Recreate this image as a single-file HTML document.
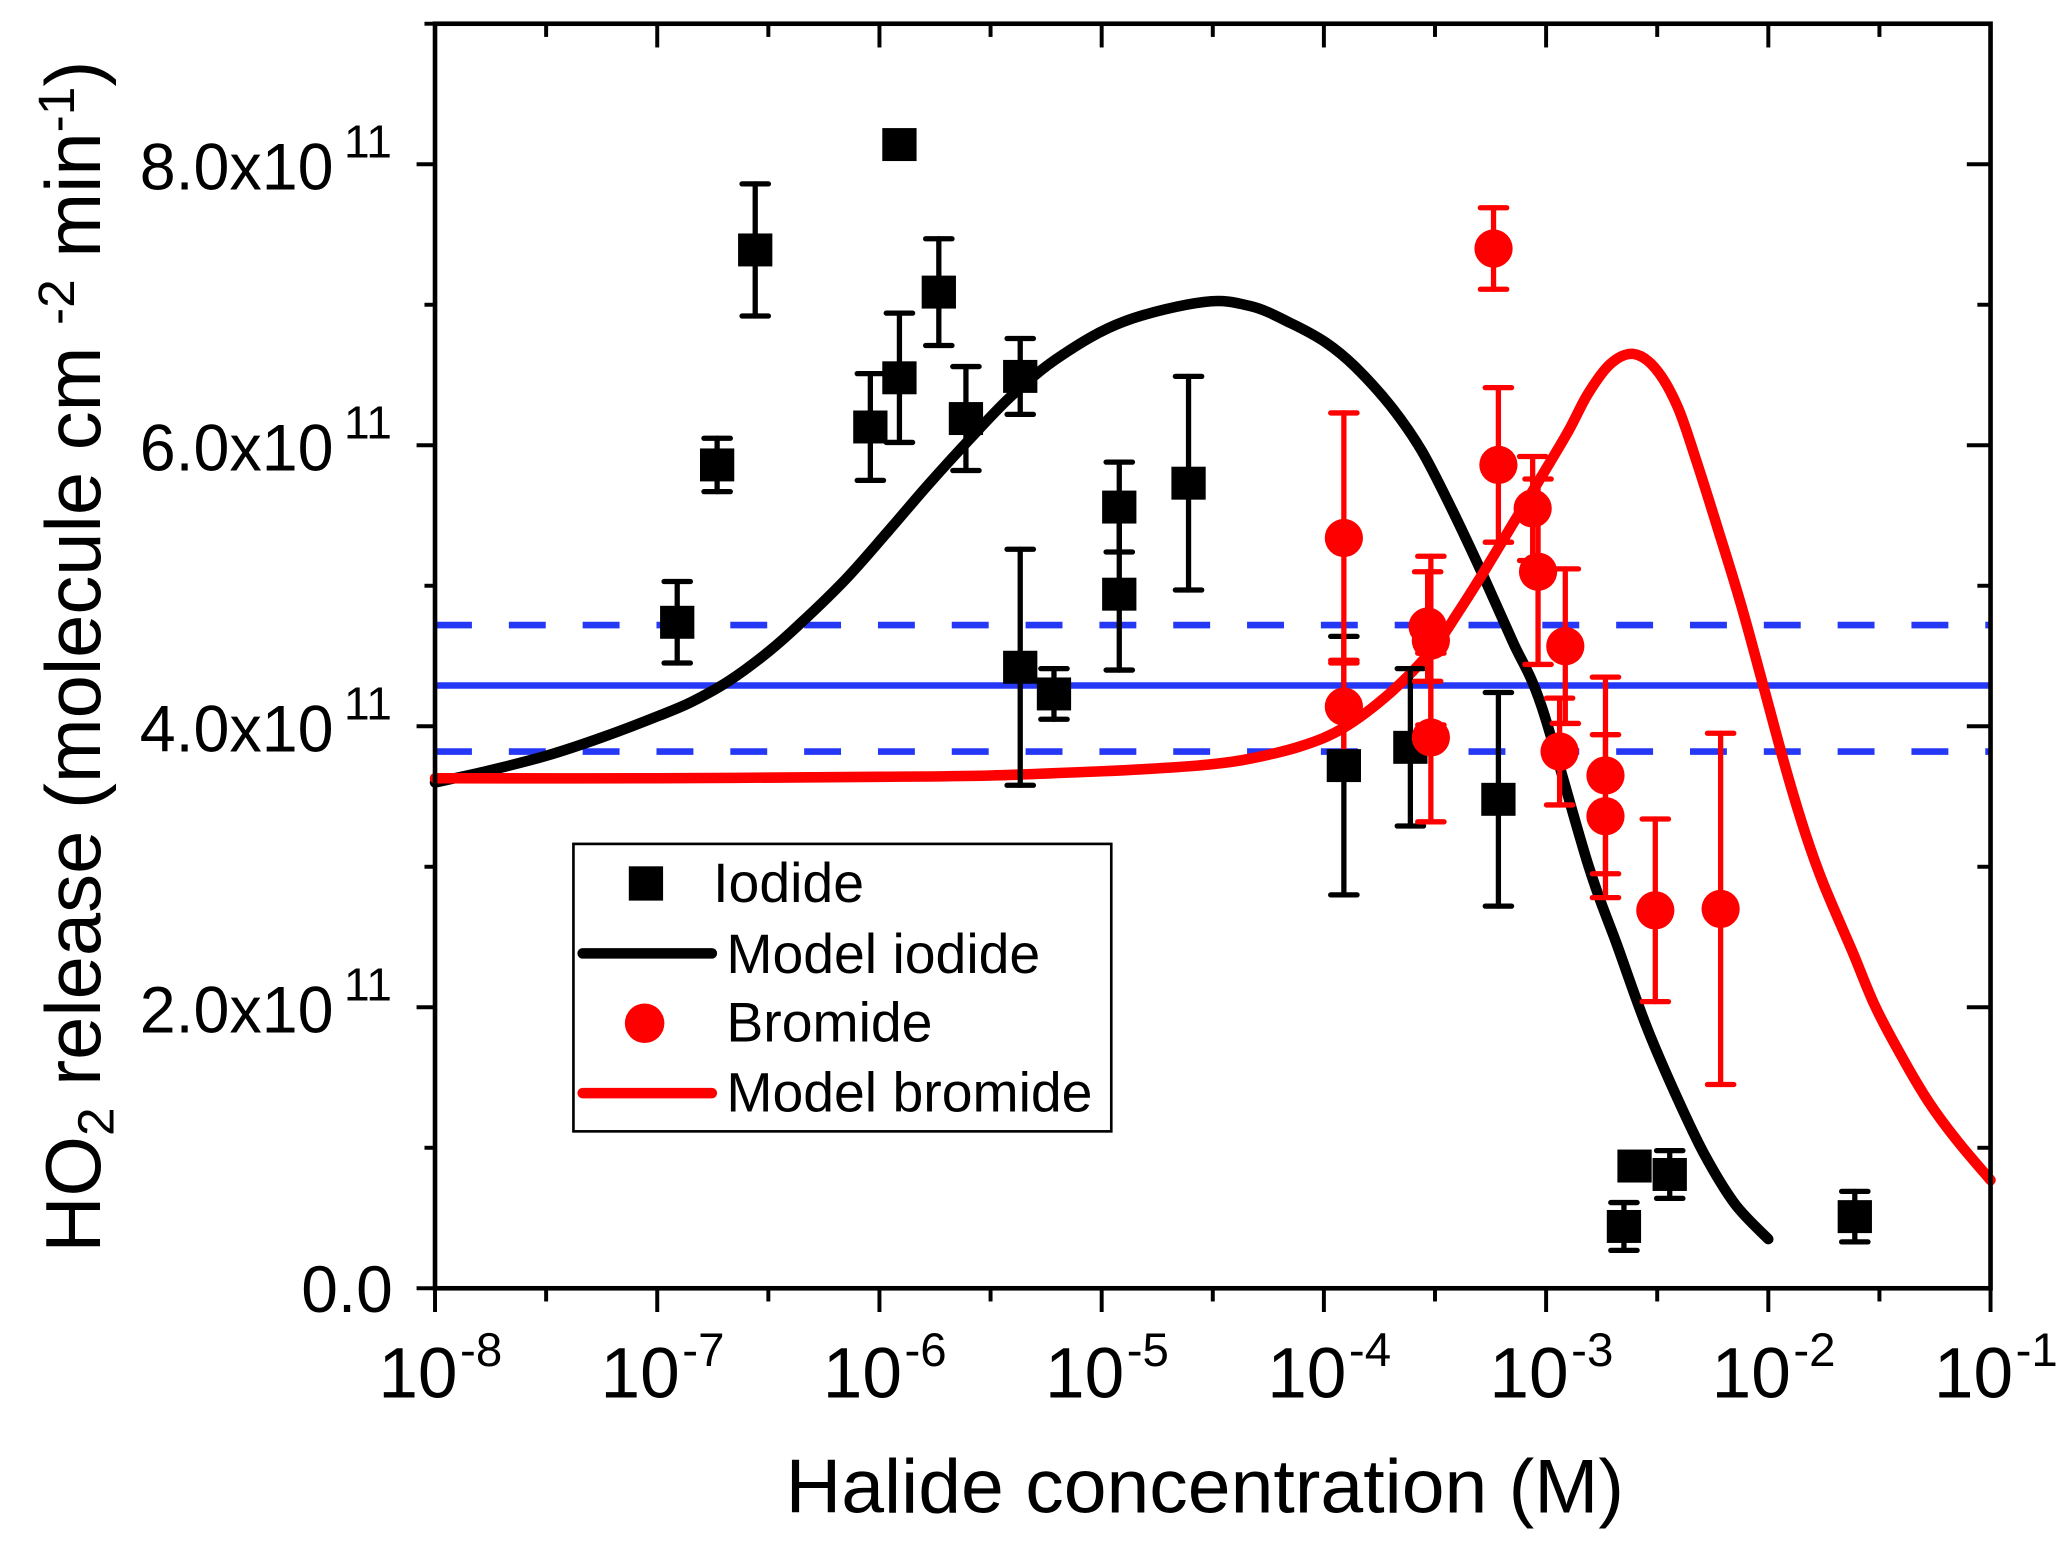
<!DOCTYPE html>
<html><head><meta charset="utf-8"><style>
html,body{margin:0;padding:0;background:#fff;}
svg{display:block;font-family:"Liberation Sans",Arial,sans-serif;}
</style></head><body>
<svg id="chart" width="2067" height="1552" viewBox="0 0 1568 1177" preserveAspectRatio="none" xmlns="http://www.w3.org/2000/svg">
</svg>
<script>
// ---- data ----
const xTickExps = [-8,-7,-6,-5,-4,-3,-2,-1];
const yTickVals = [0,2,4,6,8];
const yTickLabels = ["0.0","2.0x10","4.0x10","6.0x10","8.0x10"];
const iodideX = [1.23e-7,1.86e-7,2.76e-7,9.1e-7,1.23e-6,1.23e-6,1.85e-6,2.45e-6,4.3e-6,4.3e-6,6.1e-6,1.2e-5,1.2e-5,2.46e-5,1.23e-4,2.45e-4,6.1e-4,2.24e-3,2.5e-3,3.6e-3,2.45e-2];
const iodideY = [4.74,5.86,7.39,6.13,8.14,6.48,7.09,6.19,6.49,4.42,4.23,5.56,4.94,5.73,3.72,3.85,3.48,0.44,0.87,0.81,0.51];
const iodideErr = [0.29,0.19,0.47,0.38,0.05,0.46,0.38,0.37,0.27,0.84,0.18,0.32,0.54,0.76,0.92,0.56,0.76,0.17,0.05,0.17,0.18];
const bromideX = [1.23e-4,1.23e-4,2.93e-4,3.03e-4,3.03e-4,5.8e-4,6.1e-4,8.7e-4,9.2e-4,1.22e-3,1.15e-3,1.85e-3,1.85e-3,3.1e-3,6.1e-3];
const bromideY = [5.34,4.14,4.71,4.61,3.92,7.40,5.86,5.55,5.10,4.57,3.82,3.65,3.36,2.69,2.70];
const bromideErr = [0.89,0.33,0.39,0.6,0.6,0.29,0.55,0.37,0.66,0.55,0.38,0.7,0.58,0.65,1.25];
const modelIodideLogX = [-8,-7.77,-7.5,-7.25,-7,-6.85,-6.68,-6.5,-6.35,-6.15,-5.96,-5.78,-5.59,-5.4,-5.18,-4.9,-4.54,-4.33,-4.15,-3.99,-3.86,-3.7,-3.56,-3.42,-3.28,-3.15,-3.02,-2.81,-2.68,-2.55,-2.42,-2.29,-2.15,-2.0];
const modelIodideY = [3.6,3.68,3.79,3.92,4.07,4.17,4.32,4.53,4.74,5.05,5.39,5.72,6.05,6.36,6.64,6.88,7.02,6.99,6.87,6.73,6.56,6.28,5.96,5.53,5.06,4.6,4.14,3.01,2.44,1.87,1.39,0.96,0.6,0.35];
const modelBromideLogX = [-8,-7,-6,-5.5,-5,-4.75,-4.5,-4.33,-4.1,-3.91,-3.7,-3.51,-3.4,-3.28,-3.15,-3.02,-2.9,-2.81,-2.71,-2.61,-2.51,-2.41,-2.32,-2.22,-2.12,-2.03,-1.92,-1.83,-1.75,-1.62,-1.52,-1.4,-1.28,-1.15,-1.0];
const modelBromideY = [3.63,3.63,3.64,3.65,3.68,3.7,3.73,3.77,3.86,3.99,4.24,4.55,4.8,5.1,5.44,5.78,6.1,6.37,6.58,6.65,6.55,6.28,5.87,5.37,4.85,4.33,3.69,3.22,2.87,2.39,2.01,1.65,1.33,1.05,0.77];
const blueMean = 4.29, blueHi = 4.72, blueLo = 3.82;

// ---- axes ----
const X0=330, X1=1510, Y0=977, Y1=18;
const xs = v => X0 + (Math.log10(v)+8)*(X1-X0)/7;
const xl = l => X0 + (l+8)*(X1-X0)/7;
const ys = v => Y0 - v*(Y0-Y1)/9;
const svg = document.getElementById('chart');
const NS='http://www.w3.org/2000/svg';
function mk(tag, attrs, parent){const e=document.createElementNS(NS,tag);for(const k in attrs)e.setAttribute(k,attrs[k]);(parent||svg).appendChild(e);return e;}

// blue lines
let bl = mk('line',{x1:X0,x2:X1,y1:ys(blueMean),y2:ys(blueMean),stroke:'#2538f5','stroke-width':5});


[blueHi,blueLo].forEach(v=>{
  const d=mk('line',{x1:X0,x2:X1,y1:ys(v),y2:ys(v),stroke:'#2538f5','stroke-width':5,'stroke-dasharray':'28,28'});
  
  
});

// model curves (Catmull-Rom smoothing)
function curve(lx, ly, color, name){
  const P = lx.map((l,i)=>[xl(l), ys(ly[i])]);
  let d = 'M'+P[0][0].toFixed(1)+','+P[0][1].toFixed(1);
  for(let i=0;i<P.length-1;i++){
    const p0=P[Math.max(i-1,0)], p1=P[i], p2=P[i+1], p3=P[Math.min(i+2,P.length-1)];
    const c1=[p1[0]+(p2[0]-p0[0])/6, p1[1]+(p2[1]-p0[1])/6];
    const c2=[p2[0]-(p3[0]-p1[0])/6, p2[1]-(p3[1]-p1[1])/6];
    d+=' C'+c1.map(v=>v.toFixed(1)).join(',')+' '+c2.map(v=>v.toFixed(1)).join(',')+' '+p2.map(v=>v.toFixed(1)).join(',');
  }
  const e = mk('path',{d:d,fill:'none',stroke:color,'stroke-width':8,'stroke-linejoin':'round','stroke-linecap':'round'});
  
  
}
curve(modelIodideLogX, modelIodideY, '#000', 'model-iodide-line');
curve(modelBromideLogX, modelBromideY, '#ff0000', 'model-bromide-line');

// error bars + points
function errs(X,Y,E,color,name){
  X.forEach((x,i)=>{
    const cx=xs(x), t=ys(Y[i]+E[i]), b=ys(Y[i]-E[i]);
    const g=mk('g',{stroke:color,'stroke-width':4,'stroke-linecap':'round'});
    
    
    mk('line',{x1:cx,x2:cx,y1:t,y2:b},g);
    mk('line',{x1:cx-10,x2:cx+10,y1:t,y2:t},g);
    mk('line',{x1:cx-10,x2:cx+10,y1:b,y2:b},g);
  });
}
errs(iodideX,iodideY,iodideErr,'#000','iodide-error-bar');
errs(bromideX,bromideY,bromideErr,'#ff0000','bromide-error-bar');
iodideX.forEach((x,i)=>{
  const r=mk('rect',{x:xs(x)-13,y:ys(iodideY[i])-12.5,width:26,height:25,fill:'#000'});
  
  
});
bromideX.forEach((x,i)=>{
  const c=mk('ellipse',{cx:xs(x),cy:ys(bromideY[i]),rx:14.5,ry:14.5,fill:'#ff0000'});
  
  
});

// frame
const fr=mk('rect',{x:X0,y:Y1,width:X1-X0,height:Y0-Y1,fill:'none',stroke:'#000','stroke-width':3.5});



// x ticks
xTickExps.forEach((e,i)=>{
  const x=xl(e);
  mk('line',{x1:x,x2:x,y1:Y0,y2:Y0+18,stroke:'#000','stroke-width':3});
  mk('line',{x1:x,x2:x,y1:Y1,y2:Y1+18,stroke:'#000','stroke-width':3});
  if(i<xTickExps.length-1){
    const m=xl(e+0.5);
    mk('line',{x1:m,x2:m,y1:Y0,y2:Y0+10,stroke:'#000','stroke-width':3});
    mk('line',{x1:m,x2:m,y1:Y1,y2:Y1+10,stroke:'#000','stroke-width':3});
  }
  const t=mk('text',{x:x-43,y:1060,'font-size':54,fill:'#000'});
  
  
  t.textContent='10';
  const s=mk('tspan',{x:x+19,y:1036,'font-size':36},t); s.textContent=String(e);
});
// y ticks
for(let v=0; v<=9; v++){
  const y=ys(v), major=v%2===0;
  mk('line',{x1:X0-(major?14:8),x2:X0,y1:y,y2:y,stroke:'#000','stroke-width':3});
  mk('line',{x1:X1-(major?18:10),x2:X1,y1:y,y2:y,stroke:'#000','stroke-width':3});
}
yTickVals.forEach((v,i)=>{
  let t;
  if(v===0){
    t=mk('text',{x:298,y:ys(v)+18,'font-size':50,'text-anchor':'end',fill:'#000'});
    t.textContent=yTickLabels[i];
  } else {
    t=mk('text',{x:106,y:ys(v)+19,'font-size':50,textLength:147,lengthAdjust:'spacingAndGlyphs',fill:'#000'});
    t.textContent=yTickLabels[i];
    const s=mk('text',{x:261,y:ys(v)-5,'font-size':35,fill:'#000'});
    
    
    s.textContent='11';
  }
  
  
});
</script>
<svg style="position:absolute;left:0;top:0" width="2067" height="1552" viewBox="0 0 1568 1177" preserveAspectRatio="none" xmlns="http://www.w3.org/2000/svg" font-family="Liberation Sans, Arial, sans-serif">
<text x="596" y="1147" font-size="58" textLength="636" lengthAdjust="spacingAndGlyphs">Halide concentration (M)</text>
<text transform="translate(76,498) rotate(-90)" font-size="59" text-anchor="middle">HO<tspan font-size="39" dy="10">2</tspan><tspan dy="-10"> release (molecule cm </tspan><tspan font-size="39" dy="-20">-2</tspan><tspan dy="20"> min</tspan><tspan font-size="39" dy="-20">-1</tspan><tspan dy="20">)</tspan></text>
<g>
<rect x="435" y="640" width="408" height="218" fill="#fff" stroke="#000" stroke-width="2"/>
<rect x="477" y="657" width="26" height="26" fill="#000"/>
<text x="541" y="684" font-size="42">Iodide</text>
<line x1="442" x2="540" y1="723" y2="723" stroke="#000" stroke-width="8" stroke-linecap="round"/>
<text x="551" y="738" font-size="42">Model iodide</text>
<ellipse cx="489" cy="776" rx="15" ry="15" fill="#ff0000"/>
<text x="551" y="790" font-size="42">Bromide</text>
<line x1="442" x2="540" y1="829" y2="829" stroke="#ff0000" stroke-width="8" stroke-linecap="round"/>
<text x="551" y="843" font-size="42">Model bromide</text>
</g>
</svg>
</body></html>
